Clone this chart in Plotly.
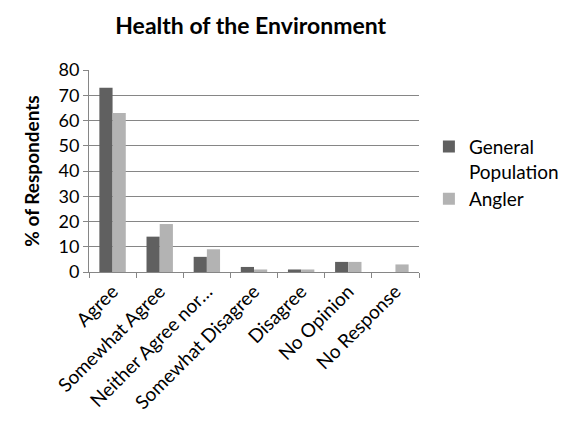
import plotly.graph_objects as go

categories = ["Agree", "Somewhat Agree", "Neither Agree nor…", "Somewhat Disagree",
              "Disagree", "No Opinion", "No Response"]
general_population = [73, 14, 6, 2, 1, 4, 0]
angler = [63, 19, 9, 1, 1, 4, 3]
y_ticks = [0, 10, 20, 30, 40, 50, 60, 70, 80]

FONT = "Lato"
fig = go.Figure()
fig.add_trace(go.Bar(x=categories, y=general_population, name="General<br>Population",
                     marker=dict(color="#606060", line=dict(width=0))))
fig.add_trace(go.Bar(x=categories, y=angler, name="Angler",
                     marker=dict(color="#b3b3b3", line=dict(width=0))))

fig.update_layout(
    width=568, height=413,
    margin=dict(l=81, r=137, t=62, b=149),
    paper_bgcolor="white", plot_bgcolor="white",
    font=dict(family=FONT, color="#000000", size=18),
    title=dict(text="<b>Health of the Environment</b>", x=0.49, xref="paper", xanchor="center",
               y=1 - 18 / 413, yref="container", yanchor="middle",
               font=dict(size=23, family=FONT)),
    barmode="group", bargap=0.44, bargroupgap=0,
    showlegend=True,
    legend=dict(x=1.03, xanchor="left", y=0.715, yanchor="top", valign="top",
                font=dict(size=19, family=FONT), tracegroupgap=6,
                itemwidth=30, bgcolor="rgba(0,0,0,0)"),
    xaxis=dict(tickangle=-45, showline=True, linecolor="#868686", linewidth=1,
               ticks="outside", tickson="boundaries", ticklen=5, tickcolor="#868686",
               showgrid=False, tickfont=dict(size=19), automargin=False),
    yaxis=dict(range=[0, 80], tickvals=y_ticks, showline=True, linecolor="#868686",
               linewidth=1, ticks="outside", ticklen=5, tickcolor="#868686",
               showgrid=True, gridcolor="#868686", gridwidth=1, zeroline=False,
               tickfont=dict(size=18), automargin=False,
               title=dict(text="<b>% of Respondents</b>", font=dict(size=19), standoff=13)),
)
fig.write_html("out.html")
